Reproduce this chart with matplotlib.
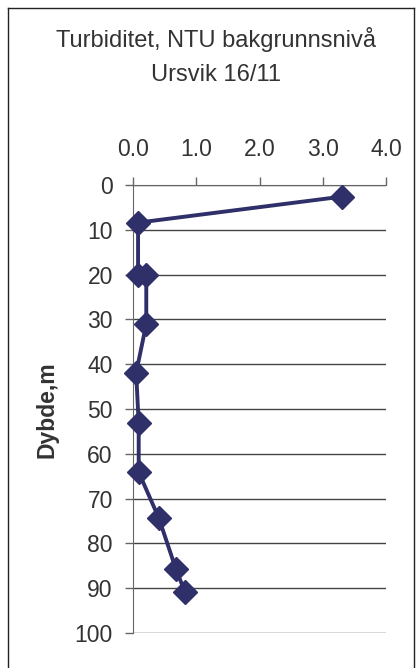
import matplotlib
matplotlib.use("Agg")
import matplotlib.pyplot as plt
from matplotlib.lines import Line2D

turbidity = [3.30, 0.08, 0.08, 0.21, 0.21, 0.05, 0.09, 0.09, 0.41, 0.68, 0.82]
depth = [2.6, 8.4, 20.2, 20.2, 31.0, 41.9, 53.2, 64.1, 74.4, 85.8, 90.8]
x_ticks = [0.0, 1.0, 2.0, 3.0, 4.0]
y_ticks = [0, 10, 20, 30, 40, 50, 60, 70, 80, 90, 100]
title_lines = ["Turbiditet, NTU bakgrunnsnivå", "Ursvik 16/11"]
y_label = "Dybde,m"

plt.rcParams['font.family'] = ['Liberation Sans', 'DejaVu Sans']

W, H = 420, 668
fig = plt.figure(figsize=(W / 100, H / 100), dpi=100)
ax = fig.add_axes([133 / W, 1 - 633 / H, (386 - 133) / W, (633 - 185) / H])

txt = '#333333'
line_col = '#2F2F6A'

ax.plot(turbidity, depth, color=line_col, lw=2.8, marker='D', ms=11.8,
        markerfacecolor=line_col, markeredgecolor=line_col, clip_on=False, zorder=3)

ax.set_xlim(0, 4)
ax.set_ylim(100, 0)
ax.xaxis.tick_top()
ax.set_xticks(x_ticks)
ax.set_xticklabels([f"{v:.1f}" for v in x_ticks])
ax.set_yticks(y_ticks)
ax.set_yticklabels([str(v) for v in y_ticks])
ax.tick_params(axis='both', labelsize=16.5, colors='#666666', labelcolor=txt,
               length=6, width=1)
ax.tick_params(axis='x', pad=11)
ax.tick_params(axis='y', pad=8.5)

ax.yaxis.grid(True, color='#444444', lw=1)
ax.set_axisbelow(True)
for s in ['right', 'bottom']:
    ax.spines[s].set_visible(False)
ax.spines['left'].set_color('#666666')
ax.spines['top'].set_color('#666666')

ax.set_ylabel(y_label, fontsize=16.5, fontweight='bold', color=txt)
ax.yaxis.set_label_coords((58 - 133) / (386 - 133), (633 - 410) / (633 - 185))

fig.text(216 / W, 1 - 39 / H, title_lines[0], ha='center', va='center', fontsize=17, color=txt)
fig.text(216 / W, 1 - 75 / H, title_lines[1], ha='center', va='center', fontsize=17, color=txt)

# chart border
bx0, bx1, by0 = 7.5 / W, 413.5 / W, 1 - 7.5 / H
for xs, ys in [([bx0, bx0], [0, by0]), ([bx0, bx1], [by0, by0]), ([bx1, bx1], [by0, 0])]:
    fig.add_artist(Line2D(xs, ys, color='#222222', lw=1, transform=fig.transFigure))

fig.savefig("out.png", dpi=100)
